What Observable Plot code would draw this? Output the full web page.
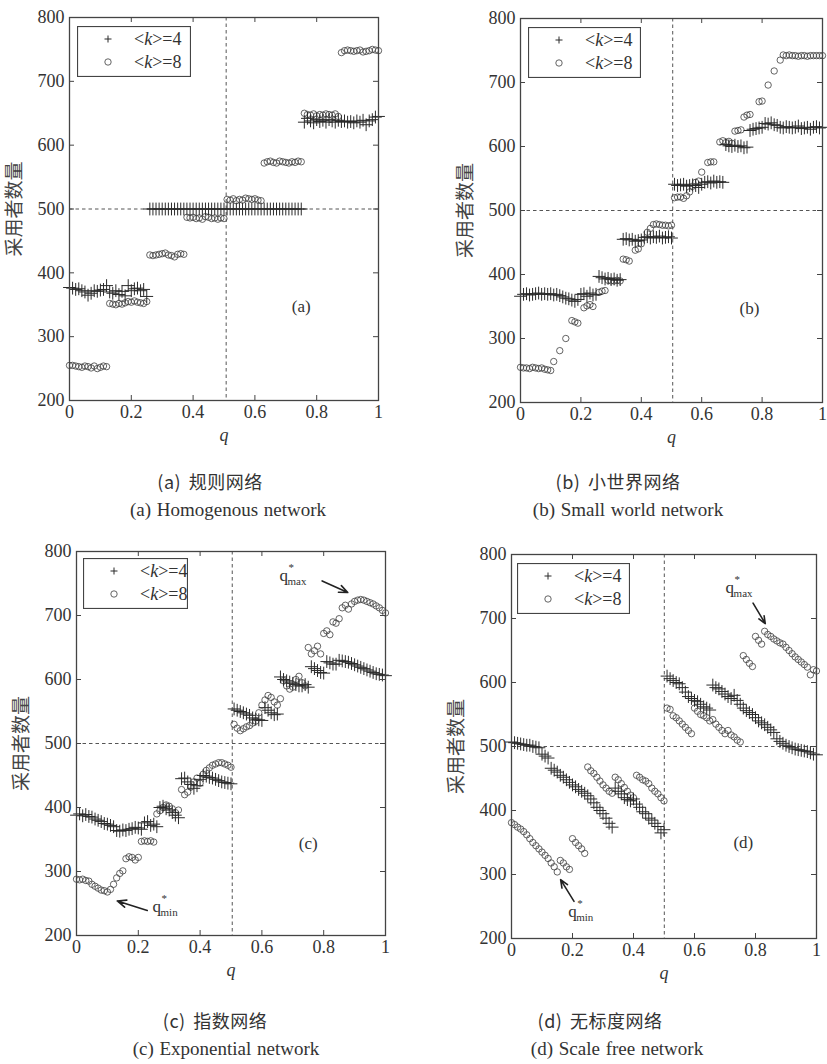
<!DOCTYPE html>
<html>
<head>
<meta charset="utf-8">
<script src="https://cdn.jsdelivr.net/npm/d3@7"></script>
<script src="https://cdn.jsdelivr.net/npm/@observablehq/plot@0.6"></script>
<style>
  body { margin: 0; background: #ffffff; }
  #page { position: relative; width: 827px; height: 1064px; overflow: hidden; background: #ffffff; }
  .panel { position: absolute; }
  .panel svg { overflow: visible; font-family: "Liberation Serif", serif !important; font-size: 18px !important; }
  .panel svg text { font-family: "Liberation Serif", serif; }
  .panel g[aria-label="x-axis label"] text { font-style: italic; font-size: 18px; }
  .panel g[aria-label="y-axis label"] text { font-family: "Noto Sans CJK SC", sans-serif; font-size: 19px; fill: #444; }
  .cap { position: absolute; transform: translate(-50%, -50%); white-space: nowrap; color: #333; }
  .cap-zh { font-family: "Noto Sans CJK SC", sans-serif; font-size: 18px; letter-spacing: 0.5px; word-spacing: 3px; }
  .cap-en { font-family: "Liberation Serif", serif; font-size: 19px; word-spacing: 1px; }
  .legend { position: absolute; }
  .legend text { font-family: "Liberation Serif", serif; }
</style>
</head>
<body>
<div id="page"></div>
<script>
// ---------------- data ----------------
const q = d3.range(0, 101).map(i => i / 100);   // sampling positions of q
const xTicks = [0, 0.2, 0.4, 0.6, 0.8, 1];
const yTicks = [200, 300, 400, 500, 600, 700, 800];
const kValues = [4, 8];
const xLabel = "q";
const yLabel = "采用者数量";
const refY = [500];
const refQ = [0.507, 0.504, 0.504, 0.501];

// (a) Homogenous network
const homog4 = [377,376,374,375,372,370,365,368,372,371,373,374,380,370,368,372,366,371,364,380,372,375,376,372,374,363,
  500,500,500,500,500,500,500,500,500,500,500,500,500,500,500,500,500,500,500,500,500,500,500,500,500,
  500,500,500,500,500,500,500,500,500,500,500,500,500,500,500,500,500,500,500,500,500,500,500,500,500,
  636,642,638,635,640,637,639,636,640,638,636,639,637,638,636,637,635,638,636,639,632,638,640,644,645];
const homog8 = [255,255,254,253,252,254,253,251,254,250,252,254,253,
  352,351,350,352,351,353,355,354,356,354,353,352,355,
  428,427,428,429,430,431,428,427,425,429,430,429,
  487,486,487,485,486,484,488,487,485,486,484,486,485,
  515,514,516,513,515,514,517,516,515,516,514,513,
  572,574,575,573,572,575,574,573,572,574,573,575,574,
  650,648,647,649,646,648,647,649,648,647,649,645,
  745,748,749,748,747,748,749,746,747,748,750,749,748];

// (b) Small world network
const small4 = [366,369,370,368,369,370,371,369,370,369,370,368,369,367,
  365,363,362,360,358,361,
  369,370,366,371,368,369,
  397,395,393,394,392,393,391,392,
  455,456,454,455,452,453,454,
  458,459,457,459,458,460,457,458,459,457,
  541,539,540,541,538,539,540,539,536,541,
  544,545,543,546,544,545,544,
  603,601,600,602,600,601,598,599,
  625,627,628,629,630,
  636,635,637,634,633,
  630,629,631,630,629,630,632,628,629,630,627,630,631,629,630];
const small8 = [255,254,254,253,255,254,253,254,252,251,250,
  264,null,281,null,300,null,328,326,324,null,
  348,351,353,350,null,372,374,375,391,390,
  390,391,390,424,423,421,null,438,440,448,
  null,466,472,478,479,478,477,477,476,477,
  520,521,521,519,523,529,538,544,546,560,
  null,575,576,576,null,607,609,606,608,605,
  624,625,626,646,649,650,null,null,670,671,
  null,696,null,718,null,735,743,742,743,742,
  742,741,742,742,741,742,742,742,742,742];

// (c) Exponential network
const expo4 = [388,390,387,389,386,385,382,380,
  378,375,374,372,370,
  364,363,365,364,366,
  367,369,368,366,
  376,378,372,374,370,
  400,402,398,396,392,388,384,
  445,446,440,436,430,434,444,
  450,449,447,446,444,442,440,439,438,437,
  554,552,550,548,546,544,
  540,538,537,536,
  556,552,548,545,546,
  604,600,598,596,594,592,590,590,592,588,
  620,617,614,611,610,
  628,626,624,624,
  630,629,628,627,625,623,621,619,617,615,613,611,609,608,607,606];
const expo8 = [288,287,288,286,285,
  280,277,274,271,270,268,272,
  280,290,297,301,
  320,323,322,318,322,
  347,348,347,348,346,
  390,395,400,404,402,398,392,396,
  428,420,424,432,
  440,446,438,452,
  458,462,466,468,470,470,468,466,463,
  530,524,520,523,526,528,532,535,
  548,560,568,575,572,565,560,570,
  598,590,585,588,600,605,595,590,
  650,640,645,652,640,
  672,676,670,690,
  688,695,
  712,716,710,718,722,
  724,725,724,722,720,718,715,712,708,704];

// (d) Scale free network
const scale4 = [507,506,505,504,503,502,502,500,499,498,
  488,485,482,
  466,463,460,455,452,
  448,444,440,437,433,
  430,427,423,418,412,
  405,400,395,388,380,374,
  435,430,426,420,417,415,418,410,405,398,395,388,385,380,375,365,370,
  610,606,603,600,598,592,585,578,575,572,570,566,562,560,557,
  596,592,590,586,582,578,575,580,572,566,
  560,556,553,550,545,540,537,534,530,526,522,
  512,508,505,502,500,498,496,495,494,493,492,490,488,487];
const scale8 = [381,378,374,371,367,362,356,350,345,340,335,330,325,318,312,304,
  322,318,312,308,
  356,350,345,340,333,
  468,462,458,452,446,440,435,430,427,
  452,448,442,436,430,424,420,
  455,452,448,446,442,435,430,426,420,415,
  560,558,548,545,540,535,530,525,520,
  560,555,550,548,545,540,542,535,530,525,520,525,518,515,510,507,
  642,636,630,625,
  672,666,660,680,675,672,668,665,662,660,655,650,645,640,636,632,628,624,612,620,618];

const panelTags = ["(a)", "(b)", "(c)", "(d)"];
const tagQ = [0.75, 0.758, 0.75, 0.76];
const tagY = [347, 347, 343, 350];
const captionsZh = ["(a) 规则网络", "(b) 小世界网络", "(c) 指数网络", "(d) 无标度网络"];
const captionsEn = ["(a) Homogenous network", "(b) Small world network", "(c) Exponential network", "(d) Scale free network"];

// q* annotations (panel index, label position, arrow tail -> head)
const starPanel = [2, 2, 3, 3];
const starSub = ["max", "min", "max", "min"];
const starItalic = [false, true, false, true];
const starQ = [0.657, 0.246, 0.702, 0.186];
const starY = [762, 246, 749, 242];
const arrowQ1 = [0.795, 0.229, 0.792, 0.205];
const arrowY1 = [754, 239, 724, 258];
const arrowQ2 = [0.878, 0.132, 0.832, 0.161];
const arrowY2 = [736, 254, 692, 292];

// ---------------- layout ----------------
const series = [[homog4, homog8], [small4, small8], [expo4, expo8], [scale4, scale8]];
const layout = [
  {left: 0,   top: 0,   width: 400, height: 460, ml: 69,  mr: 22, mt: 17, mb: 60},
  {left: 413, top: 0,   width: 414, height: 462, ml: 107, mr: 5,  mt: 18, mb: 60},
  {left: 0,   top: 510, width: 400, height: 485, ml: 76,  mr: 15, mt: 41, mb: 60},
  {left: 413, top: 510, width: 414, height: 488, ml: 98,  mr: 11, mt: 44, mb: 60}
];
const legendBox = [
  {left: 77, top: 26, w: 114, h: 51},
  {left: 528, top: 27, w: 113, h: 51},
  {left: 83, top: 558, w: 105, h: 51},
  {left: 517, top: 563, w: 113, h: 51}
];
const capPos = [
  {zx: 210, zy: 481, ex: 228, ey: 510},
  {zx: 618, zy: 481, ex: 628, ey: 510},
  {zx: 215, zy: 1020, ex: 226, ey: 1049},
  {zx: 600, zy: 1020, ex: 617, ey: 1049}
];

const page = document.getElementById("page");
const ink = "#333";
const serif = "Liberation Serif";

function toRows(vals) {
  return q.map((x, i) => ({q: x, v: vals[i]})).filter(d => d.v != null);
}

layout.forEach((L, p) => {
  const fw = L.width - L.ml - L.mr;
  const fh = L.height - L.mt - L.mb;
  const [s4, s8] = series[p];
  const stars = starPanel.map((pp, i) => ({pp, i})).filter(d => d.pp === p).map(d => d.i);
  const starData = stars.map(i => ({q: starQ[i], y: starY[i], sub: starSub[i], it: starItalic[i],
    q1: arrowQ1[i], y1: arrowY1[i], q2: arrowQ2[i], y2: arrowY2[i]}));

  const marks = [
    Plot.ruleY(refY, {stroke: "#555", strokeWidth: 1, strokeDasharray: "3.5,3"}),
    Plot.ruleX([refQ[p]], {stroke: "#555", strokeWidth: 1, strokeDasharray: "3.5,3"}),
    Plot.dot(toRows(s8), {x: "q", y: "v", r: 3.2, stroke: "#3e3e3e", strokeWidth: 0.8, fill: "none"}),
    Plot.dot(toRows(s4), {x: "q", y: "v", symbol: "plus", r: 4.2, stroke: "#2a2a2a", strokeWidth: 1}),
    // inward ticks on all four sides
    Plot.tickX(xTicks, {x: d => d, insetTop: fh - 5, stroke: "#444"}),
    Plot.tickX(xTicks, {x: d => d, insetBottom: fh - 5, stroke: "#444"}),
    Plot.tickY(yTicks, {y: d => d, insetRight: fw - 5, stroke: "#444"}),
    Plot.tickY(yTicks, {y: d => d, insetLeft: fw - 5, stroke: "#444"}),
    Plot.frame({stroke: "#444", strokeWidth: 1.3}),
    Plot.axisX({ticks: xTicks, tickSize: 0, tickPadding: 5, tickFormat: d => String(d),
      fontFamily: serif, fontSize: 18,
      label: xLabel, labelAnchor: "center", labelOffset: 40, labelArrow: "none"}),
    Plot.axisY({ticks: yTicks, tickSize: 0, tickPadding: 5, tickFormat: d => String(d),
      fontFamily: serif, fontSize: 18,
      label: yLabel, labelAnchor: "center", labelOffset: 62, labelArrow: "none"}),
    Plot.text([panelTags[p]], {x: () => tagQ[p], y: () => tagY[p], text: d => d,
      fontSize: 17, fill: ink, fontFamily: serif})
  ];
  if (starData.length) {
    marks.push(
      Plot.arrow(starData, {x1: "q1", y1: "y1", x2: "q2", y2: "y2", stroke: "#222",
        strokeWidth: 1.6, headLength: 9, headAngle: 45}),
      Plot.text(starData, {x: "q", y: "y", text: () => "q", textAnchor: "start", fontSize: 17,
        fill: ink, fontFamily: serif, fontStyle: d => d.it ? "italic" : "normal"}),
      Plot.text(starData, {x: "q", y: "y", text: () => "*", textAnchor: "start", dx: 9, dy: -8,
        fontSize: 11, fill: ink, fontFamily: serif}),
      Plot.text(starData, {x: "q", y: "y", text: "sub", textAnchor: "start", dx: 8, dy: 6,
        fontSize: 11, fill: ink, fontFamily: serif})
    );
  }

  const chart = Plot.plot({
    width: L.width, height: L.height,
    marginLeft: L.ml, marginRight: L.mr, marginTop: L.mt, marginBottom: L.mb,
    style: {fontFamily: serif, fontSize: "18px", color: ink, background: "transparent", overflow: "visible"},
    x: {domain: [0, 1]},
    y: {domain: [200, 800]},
    marks
  });
  const wrap = document.createElement("div");
  wrap.className = "panel";
  wrap.style.left = L.left + "px";
  wrap.style.top = L.top + "px";
  wrap.appendChild(chart);
  page.appendChild(wrap);

  // legend
  const B = legendBox[p];
  const lg = d3.create("svg").attr("class", "legend")
    .attr("width", B.w).attr("height", B.h)
    .style("left", B.left + "px").style("top", B.top + "px");
  lg.append("rect").attr("x", 0.5).attr("y", 0.5).attr("width", B.w - 1).attr("height", B.h - 1)
    .attr("fill", "#fff").attr("stroke", "#444").attr("stroke-width", 1.2);
  const rowY = [13, 36];
  lg.append("path").attr("d", `M${31 - 3.5},${rowY[0]}h7M31,${rowY[0] - 3.5}v7`)
    .attr("stroke", "#2a2a2a").attr("stroke-width", 1);
  lg.append("circle").attr("cx", 31).attr("cy", rowY[1]).attr("r", 3.2)
    .attr("fill", "none").attr("stroke", "#3e3e3e").attr("stroke-width", 0.8);
  kValues.forEach((k, i) => {
    const t = lg.append("text").attr("x", 57).attr("y", rowY[i]).attr("dy", "0.35em")
      .attr("font-size", 18).attr("fill", ink);
    t.append("tspan").text("<");
    t.append("tspan").attr("font-style", "italic").text("k");
    t.append("tspan").text(">=" + k);
  });
  page.appendChild(lg.node());

  // captions
  const C = capPos[p];
  const z = document.createElement("div");
  z.className = "cap cap-zh"; z.textContent = captionsZh[p];
  z.style.left = C.zx + "px"; z.style.top = C.zy + "px";
  page.appendChild(z);
  const e = document.createElement("div");
  e.className = "cap cap-en"; e.textContent = captionsEn[p];
  e.style.left = C.ex + "px"; e.style.top = C.ey + "px";
  page.appendChild(e);
});
</script>
</body>
</html>
